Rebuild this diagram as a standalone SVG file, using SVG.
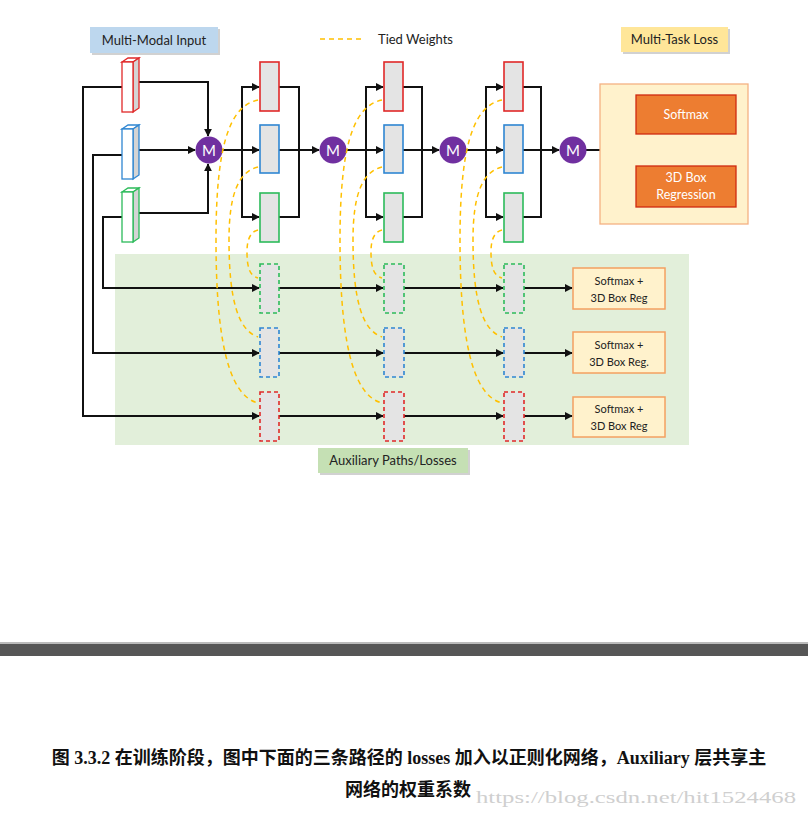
<svg xmlns="http://www.w3.org/2000/svg" width="808" height="817" viewBox="0 0 808 817">
<style>
.lbl{font-family:Lato,"Noto Sans",sans-serif;font-size:13px;fill:#222;}
.sm{font-family:Lato,"Noto Sans",sans-serif;font-size:11px;fill:#222;}
.wt{font-family:Lato,"Noto Sans",sans-serif;font-size:12.5px;fill:#fff;}
.mt{font-family:Lato,"Noto Sans",sans-serif;font-size:15px;fill:#fff;}
.ln{fill:none;stroke:#111;stroke-width:2;}
.tie{fill:none;stroke:#ffc000;stroke-width:1.5;stroke-dasharray:5 4;}
.blk{fill:#e4e4e4;stroke-width:1.6;}
.aux{fill:#e4e4e4;stroke-width:1.6;stroke-dasharray:4 3;}
.r{stroke:#e02828;}
.b{stroke:#2f86d2;}
.g{stroke:#2cbb5a;}
.mc{fill:#7030a0;}
.shadow{fill:#9a9a9a;opacity:0.45;}
.cap{font-family:"Liberation Serif","Noto Sans CJK SC",serif;font-size:18px;font-weight:bold;fill:#111;}
</style>
<defs>
<marker id="ah" viewBox="0 0 10 10" refX="9" refY="5" markerWidth="8" markerHeight="8" markerUnits="userSpaceOnUse" orient="auto">
<path d="M0,0 L10,5 L0,10 z" fill="#111"/>
</marker>
</defs>
<rect x="0" y="0" width="808" height="817" fill="#fff"/>

<g id="aux-region">
<rect x="115" y="254" width="574" height="191" fill="#e2efda"/>
</g>

<g id="label-multimodal">
<rect x="92" y="29" width="128" height="26" class="shadow"/>
<rect x="90" y="27" width="128" height="26" fill="#bdd7ee"/>
<text x="154" y="45" class="lbl" text-anchor="middle">Multi-Modal Input</text>
</g>
<g id="legend-tied">
<line x1="320" y1="39" x2="362" y2="39" class="tie"/>
<text x="378" y="44" class="lbl">Tied Weights</text>
</g>
<g id="label-multitask">
<rect x="623" y="29" width="107" height="25" class="shadow"/>
<rect x="621" y="27" width="107" height="25" fill="#ffe699"/>
<text x="674.5" y="44" class="lbl" text-anchor="middle">Multi-Task Loss</text>
</g>
<g id="label-aux">
<rect x="320" y="450" width="150" height="25" class="shadow"/>
<rect x="318" y="448" width="150" height="25" fill="#c5e0b4"/>
<text x="393" y="465" class="lbl" text-anchor="middle">Auxiliary Paths/Losses</text>
</g>

<g id="connectors">
<!-- input to M1 -->
<polyline points="139,82 208,82 208,136" class="ln" marker-end="url(#ah)"/>
<line x1="139" y1="150" x2="195" y2="150" class="ln" marker-end="url(#ah)"/>
<polyline points="139,213 208,213 208,164" class="ln" marker-end="url(#ah)"/>
<!-- inputs to aux rows -->
<polyline points="122,87 83,87 83,416 259,416" class="ln" marker-end="url(#ah)"/>
<polyline points="122,155 93,155 93,353 259,353" class="ln" marker-end="url(#ah)"/>
<polyline points="122,217 103,217 103,288 259,288" class="ln" marker-end="url(#ah)"/>
<!-- column 1 -->
<line x1="222" y1="150" x2="259" y2="150" class="ln" marker-end="url(#ah)"/>
<polyline points="259,87 242,87 242,217 259,217" class="ln"/>
<line x1="242" y1="87" x2="259" y2="87" class="ln" marker-end="url(#ah)"/>
<line x1="242" y1="217" x2="259" y2="217" class="ln" marker-end="url(#ah)"/>
<polyline points="279,87 299,87 299,217 279,217" class="ln"/>
<line x1="279" y1="150" x2="319" y2="150" class="ln" marker-end="url(#ah)"/>
<!-- column 2 -->
<line x1="346" y1="150" x2="383" y2="150" class="ln" marker-end="url(#ah)"/>
<polyline points="383,87 366,87 366,217 383,217" class="ln"/>
<line x1="366" y1="87" x2="383" y2="87" class="ln" marker-end="url(#ah)"/>
<line x1="366" y1="217" x2="383" y2="217" class="ln" marker-end="url(#ah)"/>
<polyline points="403,87 422,87 422,217 403,217" class="ln"/>
<line x1="403" y1="150" x2="439" y2="150" class="ln" marker-end="url(#ah)"/>
<!-- column 3 -->
<line x1="466" y1="150" x2="503" y2="150" class="ln" marker-end="url(#ah)"/>
<polyline points="503,87 486,87 486,217 503,217" class="ln"/>
<line x1="486" y1="87" x2="503" y2="87" class="ln" marker-end="url(#ah)"/>
<line x1="486" y1="217" x2="503" y2="217" class="ln" marker-end="url(#ah)"/>
<polyline points="523,87 541,87 541,217 523,217" class="ln"/>
<line x1="523" y1="150" x2="559" y2="150" class="ln" marker-end="url(#ah)"/>
<!-- M4 to outputs -->
<line x1="586" y1="150" x2="612" y2="150" class="ln"/>
<polyline points="635,115 612,115 612,186 635,186" class="ln"/>
<line x1="612" y1="115" x2="635" y2="115" class="ln" marker-end="url(#ah)"/>
<line x1="612" y1="186" x2="635" y2="186" class="ln" marker-end="url(#ah)"/>
<!-- aux rows -->
<line x1="279" y1="288" x2="383" y2="288" class="ln" marker-end="url(#ah)"/>
<line x1="404" y1="288" x2="503" y2="288" class="ln" marker-end="url(#ah)"/>
<line x1="524" y1="288" x2="572" y2="288" class="ln" marker-end="url(#ah)"/>
<line x1="279" y1="353" x2="383" y2="353" class="ln" marker-end="url(#ah)"/>
<line x1="404" y1="353" x2="503" y2="353" class="ln" marker-end="url(#ah)"/>
<line x1="524" y1="353" x2="572" y2="353" class="ln" marker-end="url(#ah)"/>
<line x1="279" y1="416" x2="383" y2="416" class="ln" marker-end="url(#ah)"/>
<line x1="404" y1="416" x2="503" y2="416" class="ln" marker-end="url(#ah)"/>
<line x1="524" y1="416" x2="572" y2="416" class="ln" marker-end="url(#ah)"/>
</g>

<g id="inputs">
<g id="input-red">
<path d="M122,62 L128,58 L139,58 L133,62 z" fill="#fff" stroke="#e02828" stroke-width="1.3"/>
<path d="M133,62 L139,58 L139,108 L133,112 z" fill="#d4d4d4" stroke="#e02828" stroke-width="1.3"/>
<rect x="122" y="62" width="11" height="50" fill="#fff" stroke="#e02828" stroke-width="1.3"/>
</g>
<g id="input-blue">
<path d="M122,129 L128,125 L139,125 L133,129 z" fill="#fff" stroke="#2f86d2" stroke-width="1.3"/>
<path d="M133,129 L139,125 L139,175 L133,179 z" fill="#d4d4d4" stroke="#2f86d2" stroke-width="1.3"/>
<rect x="122" y="129" width="11" height="50" fill="#fff" stroke="#2f86d2" stroke-width="1.3"/>
</g>
<g id="input-green">
<path d="M122,192 L128,188 L139,188 L133,192 z" fill="#fff" stroke="#2cbb5a" stroke-width="1.3"/>
<path d="M133,192 L139,188 L139,238 L133,242 z" fill="#d4d4d4" stroke="#2cbb5a" stroke-width="1.3"/>
<rect x="122" y="192" width="11" height="50" fill="#fff" stroke="#2cbb5a" stroke-width="1.3"/>
</g>
</g>

<g id="merge-nodes">
<g id="m1"><circle cx="209" cy="150" r="13.5" class="mc"/><text x="209" y="155.5" class="mt" text-anchor="middle">M</text></g>
<g id="m2"><circle cx="333" cy="150" r="13.5" class="mc"/><text x="333" y="155.5" class="mt" text-anchor="middle">M</text></g>
<g id="m3"><circle cx="453" cy="150" r="13.5" class="mc"/><text x="453" y="155.5" class="mt" text-anchor="middle">M</text></g>
<g id="m4"><circle cx="573" cy="150" r="13.5" class="mc"/><text x="573" y="155.5" class="mt" text-anchor="middle">M</text></g>
</g>

<g id="main-blocks">
<rect id="c1-red" x="260" y="62" width="19" height="49" class="blk r"/>
<rect id="c1-blue" x="260" y="125" width="19" height="48" class="blk b"/>
<rect id="c1-green" x="260" y="193" width="19" height="49" class="blk g"/>
<rect id="c2-red" x="384" y="62" width="19" height="49" class="blk r"/>
<rect id="c2-blue" x="384" y="125" width="19" height="48" class="blk b"/>
<rect id="c2-green" x="384" y="193" width="19" height="49" class="blk g"/>
<rect id="c3-red" x="504" y="62" width="19" height="49" class="blk r"/>
<rect id="c3-blue" x="504" y="125" width="19" height="48" class="blk b"/>
<rect id="c3-green" x="504" y="193" width="19" height="49" class="blk g"/>
</g>

<g id="aux-blocks">
<rect id="a1-green" x="260" y="264" width="19" height="49" class="aux g"/>
<rect id="a1-blue" x="260" y="328" width="19" height="49" class="aux b"/>
<rect id="a1-red" x="260" y="392" width="19" height="49" class="aux r"/>
<rect id="a2-green" x="384" y="264" width="20" height="49" class="aux g"/>
<rect id="a2-blue" x="384" y="328" width="20" height="49" class="aux b"/>
<rect id="a2-red" x="384" y="392" width="20" height="49" class="aux r"/>
<rect id="a3-green" x="504" y="264" width="20" height="49" class="aux g"/>
<rect id="a3-blue" x="504" y="328" width="20" height="49" class="aux b"/>
<rect id="a3-red" x="504" y="392" width="20" height="49" class="aux r"/>
</g>

<g id="tied-weights">
<path d="M258,100 C228,106 216,150 216,240 C216,330 226,395 258,403" class="tie"/>
<path d="M258,167 C238,172 229,195 229,240 C229,300 238,330 258,337" class="tie"/>
<path d="M258,230 C250,232 247,240 247,252 C247,268 250,276 258,278" class="tie"/>
<path d="M382,100 C352,106 340,150 340,240 C340,330 350,395 382,403" class="tie"/>
<path d="M382,167 C362,172 353,195 353,240 C353,300 362,330 382,337" class="tie"/>
<path d="M382,230 C374,232 371,240 371,252 C371,268 374,276 382,278" class="tie"/>
<path d="M502,100 C472,106 460,150 460,240 C460,330 470,395 502,403" class="tie"/>
<path d="M502,167 C482,172 473,195 473,240 C473,300 482,330 502,337" class="tie"/>
<path d="M502,230 C494,232 491,240 491,252 C491,268 494,276 502,278" class="tie"/>
</g>

<g id="multi-task-panel">
<rect x="600" y="84" width="148" height="140" fill="#fff2cc" stroke="#f4b183" stroke-width="1.3"/>
<g id="softmax">
<rect x="636" y="95" width="100" height="39" fill="#ed7d31" stroke="#d02a10" stroke-width="1.3"/>
<text x="686" y="119" class="wt" text-anchor="middle">Softmax</text>
</g>
<g id="box-regression">
<rect x="636" y="166" width="100" height="41" fill="#ed7d31" stroke="#d02a10" stroke-width="1.3"/>
<text x="686" y="182" class="wt" text-anchor="middle">3D Box</text>
<text x="686" y="199" class="wt" text-anchor="middle">Regression</text>
</g>
</g>

<g id="aux-out-1">
<rect x="573" y="268" width="92" height="41" fill="#fff2cc" stroke="#f4a060" stroke-width="1.5"/>
<text x="619" y="285" class="sm" text-anchor="middle">Softmax +</text>
<text x="619" y="302" class="sm" text-anchor="middle">3D Box Reg</text>
</g>
<g id="aux-out-2">
<rect x="573" y="332" width="92" height="41" fill="#fff2cc" stroke="#f4a060" stroke-width="1.5"/>
<text x="619" y="349" class="sm" text-anchor="middle">Softmax +</text>
<text x="619" y="366" class="sm" text-anchor="middle">3D Box Reg.</text>
</g>
<g id="aux-out-3">
<rect x="573" y="397" width="92" height="40" fill="#fff2cc" stroke="#f4a060" stroke-width="1.5"/>
<text x="619" y="413" class="sm" text-anchor="middle">Softmax +</text>
<text x="619" y="430" class="sm" text-anchor="middle">3D Box Reg</text>
</g>

<g id="page-bar">
<rect x="0" y="642" width="808" height="2" fill="#bbb"/>
<rect x="0" y="644" width="808" height="12" fill="#565656"/>
</g>

<g id="caption">
<text x="409" y="764" class="cap" text-anchor="middle">图 3.3.2 在训练阶段，图中下面的三条路径的 losses 加入以正则化网络，Auxiliary 层共享主</text>
<text x="408" y="796" class="cap" text-anchor="middle">网络的权重系数</text>
<text x="476" y="803" font-family="'Liberation Serif',serif" font-size="17" fill="#cfcfcf" textLength="320" lengthAdjust="spacingAndGlyphs">https://blog.csdn.net/hit1524468</text>
</g>
</svg>
